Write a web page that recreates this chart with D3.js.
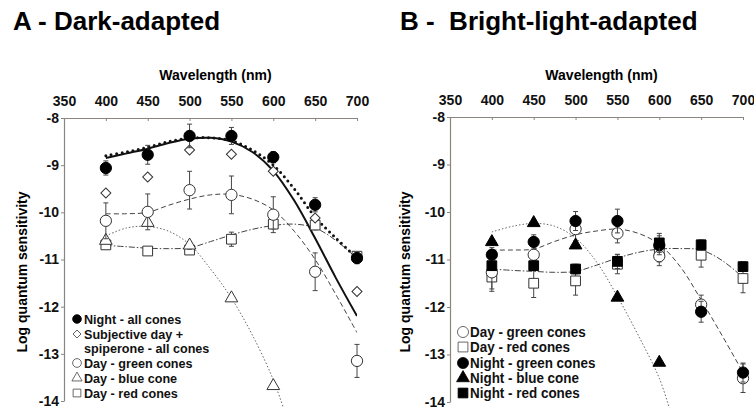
<!DOCTYPE html>
<html>
<head>
<meta charset="utf-8">
<script src="https://cdn.jsdelivr.net/npm/d3@7"></script>
<style>
  body { margin: 0; background: #fff; }
  svg { display: block; font-family: "Liberation Sans", Arial, sans-serif; }
  .title { font-size: 26px; font-weight: bold; }
  .axis-label { font-size: 14px; font-weight: bold; }
  .tick-label { font-size: 14px; font-weight: bold; }
  .legend text { font-weight: bold; }
</style>
</head>
<body>
<div id="chart"></div>
<script>
// wavelengths of the measured points and of the fitted curves
const wavelengths = [400, 450, 500, 550, 600, 650, 700];
const blueWavelengths = [400, 450, 500, 550, 600];
const fitWavelengths = [400, 425, 450, 475, 500, 525, 550, 575, 600, 625, 650, 675, 700];
const blueFitWavelengths = [400, 425, 450, 475, 500, 525, 550, 575, 600, 615];
const xTicks = [350, 400, 450, 500, 550, 600, 650, 700];
const yTicks = [-8, -9, -10, -11, -12, -13, -14];

// A - dark-adapted
const aNightAll = [-9.06, -8.78, -8.38, -8.38, -8.83, -9.84, -10.97];
const aNightAllErr = [0.15, 0.2, 0.25, 0.18, 0.12, 0.15, 0.12];
const aSpiperone = [-9.59, -9.25, -8.68, -8.77, -9.13, -10.12, -11.68];
const aDayGreen = [-10.18, -9.99, -9.53, -9.63, -10.05, -11.26, -13.15];
const aDayGreenErr = [0.38, 0.38, 0.4, 0.4, 0.38, 0.4, 0.35];
const aDayBlue = [-10.6, -10.22, -10.7, -11.82, -13.68];
const aDayBlueErr = [0.05, 0.05, 0.08, 0.05, 0.05];
const aDayRed = [-10.69, -10.82, -10.8, -10.57, -10.25, -10.27, -10.93];
const aDayRedErr = [0.05, 0.05, 0.08, 0.15, 0.1, 0.1, 0.08];

const aFitSolid = [-8.85, -8.75, -8.65, -8.53, -8.44, -8.42, -8.5, -8.72, -9.12, -9.75, -10.55, -11.4, -12.2];
const aFitNight = [-8.8, -8.72, -8.62, -8.5, -8.43, -8.42, -8.48, -8.68, -9.0, -9.5, -10.1, -10.55, -10.97];
const aFitGreen = [-10.03, -10.03, -10.0, -9.85, -9.72, -9.63, -9.62, -9.72, -9.95, -10.4, -11.0, -11.75, -12.55];
const aFitBlue = [-10.5, -10.33, -10.3, -10.4, -10.68, -11.2, -11.82, -12.6, -13.55, -14.3];
const aFitRed = [-10.7, -10.73, -10.76, -10.77, -10.75, -10.62, -10.48, -10.36, -10.28, -10.25, -10.33, -10.6, -10.98];

// B - bright-light-adapted
const bDayGreen = [-11.27, -10.9, -10.36, -10.45, -10.93, -11.95, -13.5];
const bDayGreenErr = [0.35, 0.3, 0.25, 0.2, 0.2, 0.2, 0.3];
const bDayRed = [-11.37, -11.5, -11.45, -11.1, -10.85, -10.91, -11.4];
const bDayRedErr = [0.3, 0.3, 0.3, 0.2, 0.2, 0.25, 0.3];
const bNightGreen = [-10.9, -10.63, -10.19, -10.19, -10.7, -12.1, -13.38];
const bNightGreenErr = [0.15, 0.15, 0.2, 0.25, 0.2, 0.22, 0.2];
const bNightBlue = [-10.63, -10.23, -10.7, -11.8, -13.17];
const bNightBlueErr = [0.05, 0.05, 0.05, 0.05, 0.05];
const bNightRed = [-11.13, -11.13, -11.2, -11.04, -10.65, -10.69, -11.15];
const bNightRedErr = [0.1, 0.1, 0.1, 0.15, 0.2, 0.1, 0.1];

const bFitGreen = [-10.8, -10.8, -10.78, -10.62, -10.48, -10.4, -10.36, -10.45, -10.68, -11.15, -11.85, -12.6, -13.38];
const bFitBlue = [-10.42, -10.3, -10.24, -10.3, -10.55, -11.05, -11.78, -12.6, -13.5, -14.3];
const bFitRed = [-11.2, -11.23, -11.25, -11.27, -11.25, -11.12, -10.97, -10.85, -10.78, -10.77, -10.8, -11.02, -11.38];

const W = 754, H = 414;
const svg = d3.select("#chart").append("svg").attr("width", W).attr("height", H);

const sym = {
    circle: d3.symbol().type(d3.symbolCircle).size(100),
    square: d3.symbol().type(d3.symbolSquare).size(95),
    triangle: d3.symbol().type(d3.symbolTriangle).size(70),
    diamond: d3.symbol().type(d3.symbolSquare).size(50)
};

const lineStyles = {
    solid: {stroke: "#111", width: 2, dash: null},
    bigdot: {stroke: "#111", width: 3, dash: "0,5.5", cap: "round"},
    dashed: {stroke: "#444", width: 1, dash: "5,3"},
    dotted: {stroke: "#666", width: 1, dash: "1.5,2"},
    dashdot: {stroke: "#444", width: 1, dash: "6,2,1.5,2"}
};

function drawPanel(p) {
    const x = d3.scaleLinear().domain([350, 700]).range([p.left, p.right]);
    const y = d3.scaleLinear().domain([-8, -14]).range([p.top, p.bottom]);

    // title
    svg.append("text").attr("class", "title")
        .attr("x", p.titleX).attr("y", 30)
        .attr("xml:space", "preserve")
        .text(p.title);

    // axis titles
    svg.append("text").attr("class", "axis-label")
        .attr("x", (p.left + p.right) / 2 + 5).attr("y", 80)
        .attr("text-anchor", "middle")
        .text("Wavelength (nm)");
    svg.append("text").attr("class", "axis-label")
        .attr("transform", `translate(${p.left - p.yLabelOff},${272}) rotate(-90)`)
        .attr("text-anchor", "middle")
        .text("Log quantum sensitivity");

    // axes
    const xAxis = svg.append("g")
        .attr("transform", `translate(0,${p.top})`)
        .call(d3.axisTop(x).tickValues(xTicks).tickSizeOuter(0).tickSizeInner(-3).tickPadding(8));
    const yAxis = svg.append("g")
        .attr("transform", `translate(${p.left},0)`)
        .call(d3.axisLeft(y).tickValues(yTicks).tickSizeOuter(0).tickSizeInner(3).tickPadding(3));
    [xAxis, yAxis].forEach(a => {
        a.select(".domain").attr("stroke", "#8b8580").attr("stroke-width", 1.2);
        a.selectAll(".tick line").attr("stroke", "#8b8580");
        a.selectAll(".tick text").attr("class", "tick-label")
            .attr("fill", "#111").style("font-family", "'Liberation Sans', Arial, sans-serif");
    });
    xAxis.selectAll(".tick text").attr("y", -12);
    yAxis.selectAll(".tick text").attr("x", -5).text(d => "-" + Math.abs(d));

    // clip for fitted curves
    const clipId = "clip-" + p.key;
    svg.append("clipPath").attr("id", clipId)
        .append("rect").attr("x", p.left).attr("y", p.top)
        .attr("width", p.right - p.left).attr("height", p.bottom - p.top + 6);

    const line = d3.line().x(d => x(d[0])).y(d => y(d[1])).curve(d3.curveCatmullRom.alpha(0.5));
    const curves = svg.append("g").attr("clip-path", `url(#${clipId})`);
    p.curves.forEach(c => {
        const st = lineStyles[c.style];
        curves.append("path")
            .datum(c.wl.map((w, i) => [w, c.values[i]]))
            .attr("d", line)
            .attr("fill", "none")
            .attr("stroke", st.stroke)
            .attr("stroke-width", st.width)
            .attr("stroke-dasharray", st.dash)
            .attr("stroke-linecap", st.cap || "butt");
    });

    // points with error bars
    p.series.forEach(s => {
        const g = svg.append("g");
        const pts = s.wl.map((w, i) => ({w, v: s.values[i], e: s.err ? s.err[i] : 0}));
        const eb = g.selectAll(".eb").data(pts.filter(d => d.e > 0)).enter().append("g");
        eb.append("line")
            .attr("x1", d => x(d.w)).attr("x2", d => x(d.w))
            .attr("y1", d => y(d.v + d.e)).attr("y2", d => y(d.v - d.e))
            .attr("stroke", "#444").attr("stroke-width", 1);
        [1, -1].forEach(sg => {
            eb.append("line")
                .attr("x1", d => x(d.w) - 2.5).attr("x2", d => x(d.w) + 2.5)
                .attr("y1", d => y(d.v + sg * d.e)).attr("y2", d => y(d.v + sg * d.e))
                .attr("stroke", "#444").attr("stroke-width", 1);
        });
        g.selectAll(".pt").data(pts).enter().append("path")
            .attr("d", sym[s.shape])
            .attr("transform", d => `translate(${x(d.w)},${y(d.v)})` + (s.shape === "diamond" ? " rotate(45)" : ""))
            .attr("fill", s.filled ? "#000" : "#fff")
            .attr("stroke", s.filled ? "#000" : "#333")
            .attr("stroke-width", 1);
    });

    // legend (condensed bold text, as in the original figure)
    const lg = svg.append("g").attr("class", "legend");
    lg.append("rect")
        .attr("x", p.legend.x - 8).attr("y", p.legend.rows[0] - 10)
        .attr("width", p.legend.w).attr("height", p.legend.rows[p.legend.rows.length - 1] - p.legend.rows[0] + 18)
        .attr("fill", "#fff");
    p.legend.items.forEach((it, i) => {
        const ry = p.legend.rows[i];
        if (it.shape) {
            const sc = p.legend.symScale;
            lg.append("path")
                .attr("d", d3.symbol().type(it.shape === "circle" ? d3.symbolCircle :
                    it.shape === "triangle" ? d3.symbolTriangle : d3.symbolSquare)
                    .size((it.shape === "diamond" ? 32 : it.shape === "triangle" ? 45 : 60) * sc))
                .attr("transform", `translate(${p.legend.x},${ry})` + (it.shape === "diamond" ? " rotate(45)" : ""))
                .attr("fill", it.filled ? "#000" : "#fff")
                .attr("stroke", it.filled ? "#000" : "#444")
                .attr("stroke-width", 0.8);
        }
        lg.append("text")
            .attr("transform", `translate(${p.legend.x + 7},${ry}) scale(${p.legend.squeeze},1)`)
            .attr("dy", "0.36em")
            .style("font-size", p.legend.fontSize + "px")
            .attr("fill", "#111")
            .text(it.label);
    });
}

drawPanel({
    key: "a", title: "A - Dark-adapted", titleX: 13,
    left: 64, right: 357, top: 118, bottom: 401, yLabelOff: 37,
    curves: [
        {wl: fitWavelengths, values: aFitGreen, style: "dashed"},
        {wl: blueFitWavelengths, values: aFitBlue, style: "dotted"},
        {wl: fitWavelengths, values: aFitRed, style: "dashdot"},
        {wl: fitWavelengths, values: aFitSolid, style: "solid"},
        {wl: fitWavelengths, values: aFitNight, style: "bigdot"}
    ],
    series: [
        {wl: wavelengths, values: aDayRed, err: aDayRedErr, shape: "square", filled: false},
        {wl: blueWavelengths, values: aDayBlue, err: aDayBlueErr, shape: "triangle", filled: false},
        {wl: wavelengths, values: aDayGreen, err: aDayGreenErr, shape: "circle", filled: false},
        {wl: wavelengths, values: aSpiperone, err: null, shape: "diamond", filled: false},
        {wl: wavelengths, values: aNightAll, err: aNightAllErr, shape: "circle", filled: true}
    ],
    legend: {
        x: 77, w: 145, fontSize: 13, squeeze: 0.97, symScale: 1,
        rows: [319, 334, 348, 363, 378, 393],
        items: [
            {shape: "circle", filled: true, label: "Night - all cones"},
            {shape: "diamond", filled: false, label: "Subjective day +"},
            {shape: null, label: "spiperone - all cones"},
            {shape: "circle", filled: false, label: "Day - green cones"},
            {shape: "triangle", filled: false, label: "Day - blue cone"},
            {shape: "square", filled: false, label: "Day - red cones"}
        ]
    }
});

drawPanel({
    key: "b", title: "B -  Bright-light-adapted", titleX: 400,
    left: 450, right: 743, top: 117, bottom: 402, yLabelOff: 40,
    curves: [
        {wl: blueFitWavelengths, values: bFitBlue, style: "dotted"},
        {wl: fitWavelengths, values: bFitGreen, style: "dashed"},
        {wl: fitWavelengths, values: bFitRed, style: "dashdot"}
    ],
    series: [
        {wl: wavelengths, values: bDayRed, err: bDayRedErr, shape: "square", filled: false},
        {wl: wavelengths, values: bDayGreen, err: bDayGreenErr, shape: "circle", filled: false},
        {wl: wavelengths, values: bNightGreen, err: bNightGreenErr, shape: "circle", filled: true},
        {wl: wavelengths, values: bNightRed, err: bNightRedErr, shape: "square", filled: true},
        {wl: blueWavelengths, values: bNightBlue, err: bNightBlueErr, shape: "triangle", filled: true}
    ],
    legend: {
        x: 463, w: 150, fontSize: 14, squeeze: 0.96, symScale: 1.6,
        rows: [332, 347, 363, 378, 393],
        items: [
            {shape: "circle", filled: false, label: "Day - green cones"},
            {shape: "square", filled: false, label: "Day - red cones"},
            {shape: "circle", filled: true, label: "Night - green cones"},
            {shape: "triangle", filled: true, label: "Night - blue cone"},
            {shape: "square", filled: true, label: "Night - red cones"}
        ]
    }
});
</script>
</body>
</html>
